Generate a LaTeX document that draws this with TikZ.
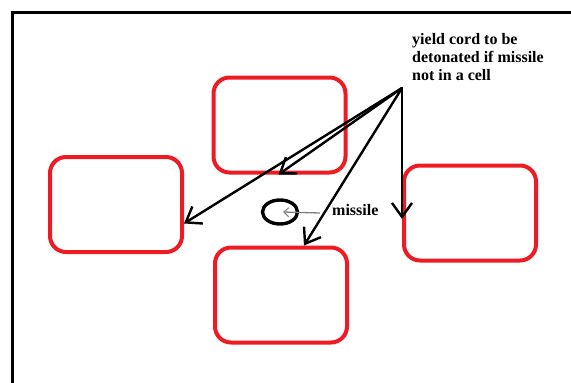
\documentclass[tikz,border=0pt]{standalone}
\usepackage{fontspec}
\setmainfont{Liberation Serif}
\usetikzlibrary{arrows.meta,shapes.geometric}
\definecolor{paintred}{RGB}{237,28,36}
\definecolor{pointergray}{RGB}{128,128,128}
\tikzset{
  cell/.style={draw=paintred, line width=4pt, rounded corners=16pt,
    minimum width=132pt, minimum height=95pt, inner sep=0pt},
  cord/.style={draw=black, line width=2.4pt, line cap=round,
    -{Straight Barb[length=14pt,width=20pt,line width=2.4pt]}},
  pointer/.style={draw=pointergray, line width=1.3pt,
    -{Straight Barb[length=5pt,width=9pt,line width=1pt]}},
  label/.style={font=\bfseries\fontsize{16}{18}\selectfont, inner sep=0pt, text=black},
  frame/.style={draw=black, line width=3pt}
}
\begin{document}
\begin{tikzpicture}[x=1pt,y=-1pt]
\useasboundingbox (0,0) rectangle (571,383);
% frame
\coordinate (fbl) at (12,383);
\coordinate (ftl) at (12,12);
\coordinate (ftr) at (571,12);
\draw[frame] (fbl) -- (ftl) -- (ftr);
% cells
\node[cell] (topbox) at (279.5,125) {};
\node[cell] (leftbox) at (116,204.5) {};
\node[cell] (rightbox) at (470,213) {};
\node[cell] (botbox) at (281,295) {};
% missile
\node[draw=black, line width=3.4pt, ellipse, minimum width=35pt, minimum height=24pt, inner sep=0pt] (missile) at (280,212) {};
\node[label, anchor=base west] (mlabel) at (332,215) {missile};
\coordinate (pstart) at (320,213);
\draw[pointer] (pstart) -- ([xshift=3pt]missile.center);
% cord text and source
\node[label, anchor=north west, align=left] (cordtext) at (412,33) {yield cord to be\\detonated if missile\\not in a cell};
\coordinate (src) at (402,88);
\draw[cord] (src) -- ([yshift=-19pt]leftbox.east);
\draw[cord] (src) -- ([xshift=-1pt]topbox.south);
\draw[cord] (src) -- ([xshift=23pt]botbox.north);
\draw[cord] (src) -- ([yshift=-6pt]rightbox.west);
\end{tikzpicture}
\end{document}
